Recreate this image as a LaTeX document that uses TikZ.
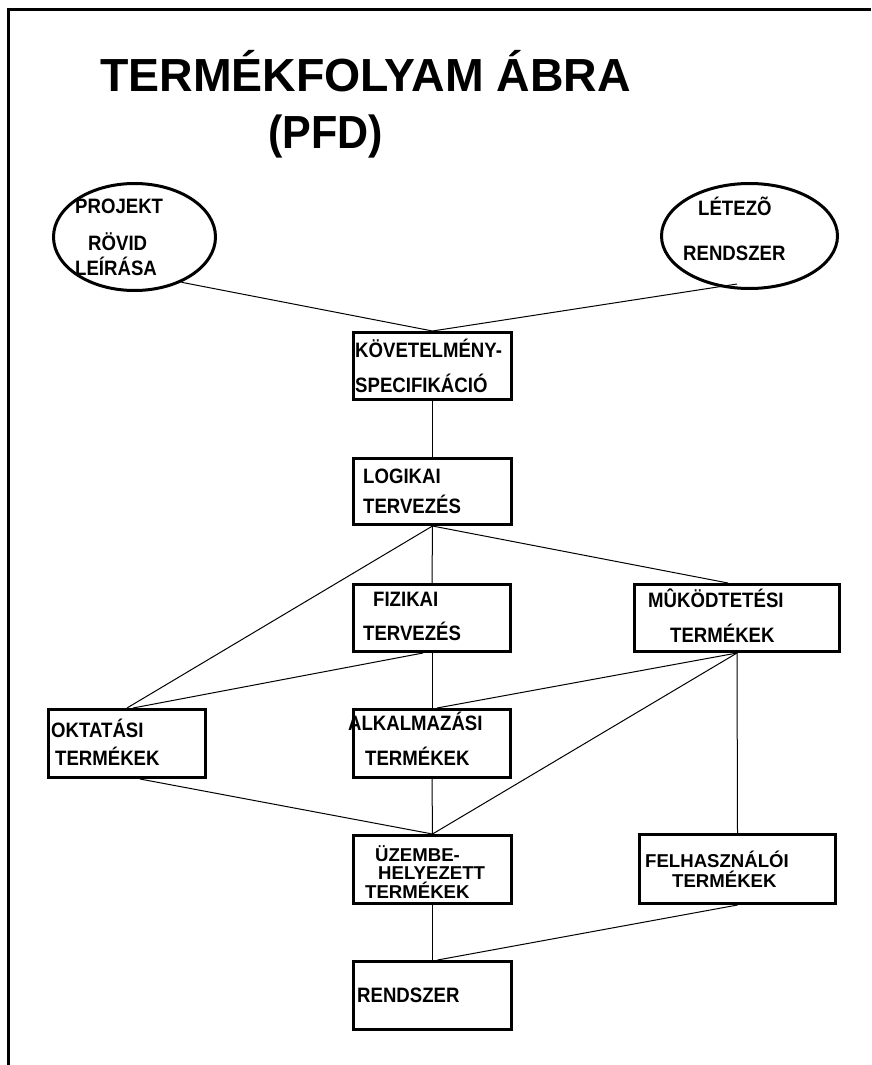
\documentclass[tikz,border=0pt]{standalone}
\usepackage{fontspec}
\setmainfont{Liberation Sans}
\usetikzlibrary{shapes.geometric}
\newcommand{\vstr}[1]{\scalebox{1}[1.12]{#1}}
\begin{document}
\begin{tikzpicture}[x=1pt,y=-1pt,
  frame/.style={line width=3pt},
  box/.style={draw, line width=3pt, rectangle, inner sep=0pt},
  oval/.style={draw, line width=3pt, ellipse, inner sep=0pt},
  conn/.style={line width=1pt},
  lbl/.style={anchor=base west, inner sep=0pt, font=\bfseries\fontsize{18.6}{18.6}\selectfont},
  ttl/.style={anchor=base west, inner sep=0pt, font=\bfseries\fontsize{43}{43}\selectfont}]
\useasboundingbox (0,0) rectangle (871,1065);
% frame
\draw[frame] (871,10) -- (8,10) -- (8,1065);
% title
\node[ttl] (title1) at (100,91) {\scalebox{1.08}[1.08]{TERMÉKFOLYAM ÁBRA}};
\node[ttl] (title2) at (268,148) {\scalebox{1}[1.08]{(PFD)}};
% ellipses
\node[oval, minimum width=162pt, minimum height=107pt] (proj) at (134.5,237) {};
\node[oval, minimum width=176pt, minimum height=105pt] (letez) at (749.5,236) {};
% boxes
\node[box, minimum width=158pt, minimum height=67pt] (kov) at (432.5,366) {};
\node[box, minimum width=158pt, minimum height=66pt] (log) at (432.5,491.5) {};
\node[box, minimum width=157pt, minimum height=67pt] (fiz) at (432,618) {};
\node[box, minimum width=205pt, minimum height=67pt] (muk) at (737,618) {};
\node[box, minimum width=157pt, minimum height=68pt] (okt) at (127,743.5) {};
\node[box, minimum width=157pt, minimum height=68pt] (alk) at (432,743.5) {};
\node[box, minimum width=158pt, minimum height=68pt] (uz) at (432.5,869.5) {};
\node[box, minimum width=196pt, minimum height=69pt] (felh) at (737.5,869) {};
\node[box, minimum width=158pt, minimum height=68pt] (rend) at (432.5,995.5) {};
% texts
\node[lbl] (t1) at (75,213) {\vstr{PROJEKT}};
\node[lbl] (t2) at (88,250) {\vstr{RÖVID}};
\node[lbl] (t3) at (75,275) {\vstr{LEÍRÁSA}};
\node[lbl] (t4) at (698,215) {\vstr{LÉTEZÕ}};
\node[lbl] (t5) at (683,260) {\vstr{RENDSZER}};
\node[lbl] (t6) at (355,357) {\vstr{KÖVETELMÉNY-}};
\node[lbl] (t7) at (355,392) {\vstr{SPECIFIKÁCIÓ}};
\node[lbl] (t8) at (363,483) {\vstr{LOGIKAI}};
\node[lbl] (t9) at (363,513) {\vstr{TERVEZÉS}};
\node[lbl] (t10) at (373,606) {\vstr{FIZIKAI}};
\node[lbl] (t11) at (363,640) {\vstr{TERVEZÉS}};
\node[lbl] (t12) at (648,607) {\vstr{MÛKÖDTETÉSI}};
\node[lbl] (t13) at (670,642) {\vstr{TERMÉKEK}};
\node[lbl] (t14) at (51,737) {\vstr{OKTATÁSI}};
\node[lbl] (t15) at (55,765) {\vstr{TERMÉKEK}};
\node[lbl] (t16) at (348,730) {\vstr{ALKALMAZÁSI}};
\node[lbl] (t17) at (365,765) {\vstr{TERMÉKEK}};
\node[lbl] (t18) at (375,861) {ÜZEMBE-};
\node[lbl] (t19) at (378,879) {HELYEZETT};
\node[lbl] (t20) at (365,898) {TERMÉKEK};
\node[lbl] (t21) at (645,867) {FELHASZNÁLÓI};
\node[lbl] (t22) at (672,887) {TERMÉKEK};
\node[lbl] (t23) at (357,1002) {\vstr{RENDSZER}};
% connectors
\coordinate (letezEnd) at (737,284);
\draw[conn] (proj.-44) -- (kov.north);
\draw[conn] (letezEnd) -- (kov.north);
\draw[conn] (kov.south) -- (log.north);
\draw[conn] (log.south) -- (okt.north);
\draw[conn] (log.south) -- (fiz.north);
\draw[conn] (log.south) -- ([xshift=-9pt]muk.north);
\draw[conn] ([xshift=-9pt]fiz.south) -- ([xshift=6pt]okt.north);
\draw[conn] (fiz.south) -- (alk.north);
\draw[conn] (muk.south) -- ([xshift=5pt]alk.north);
\draw[conn] (muk.south) -- (uz.north);
\draw[conn] (muk.south) -- (felh.north);
\draw[conn] ([xshift=13pt]okt.south) -- (uz.north);
\draw[conn] (alk.south) -- (uz.north);
\draw[conn] (uz.south) -- (rend.north);
\draw[conn] (felh.south) -- ([xshift=5pt]rend.north);
\end{tikzpicture}
\end{document}
